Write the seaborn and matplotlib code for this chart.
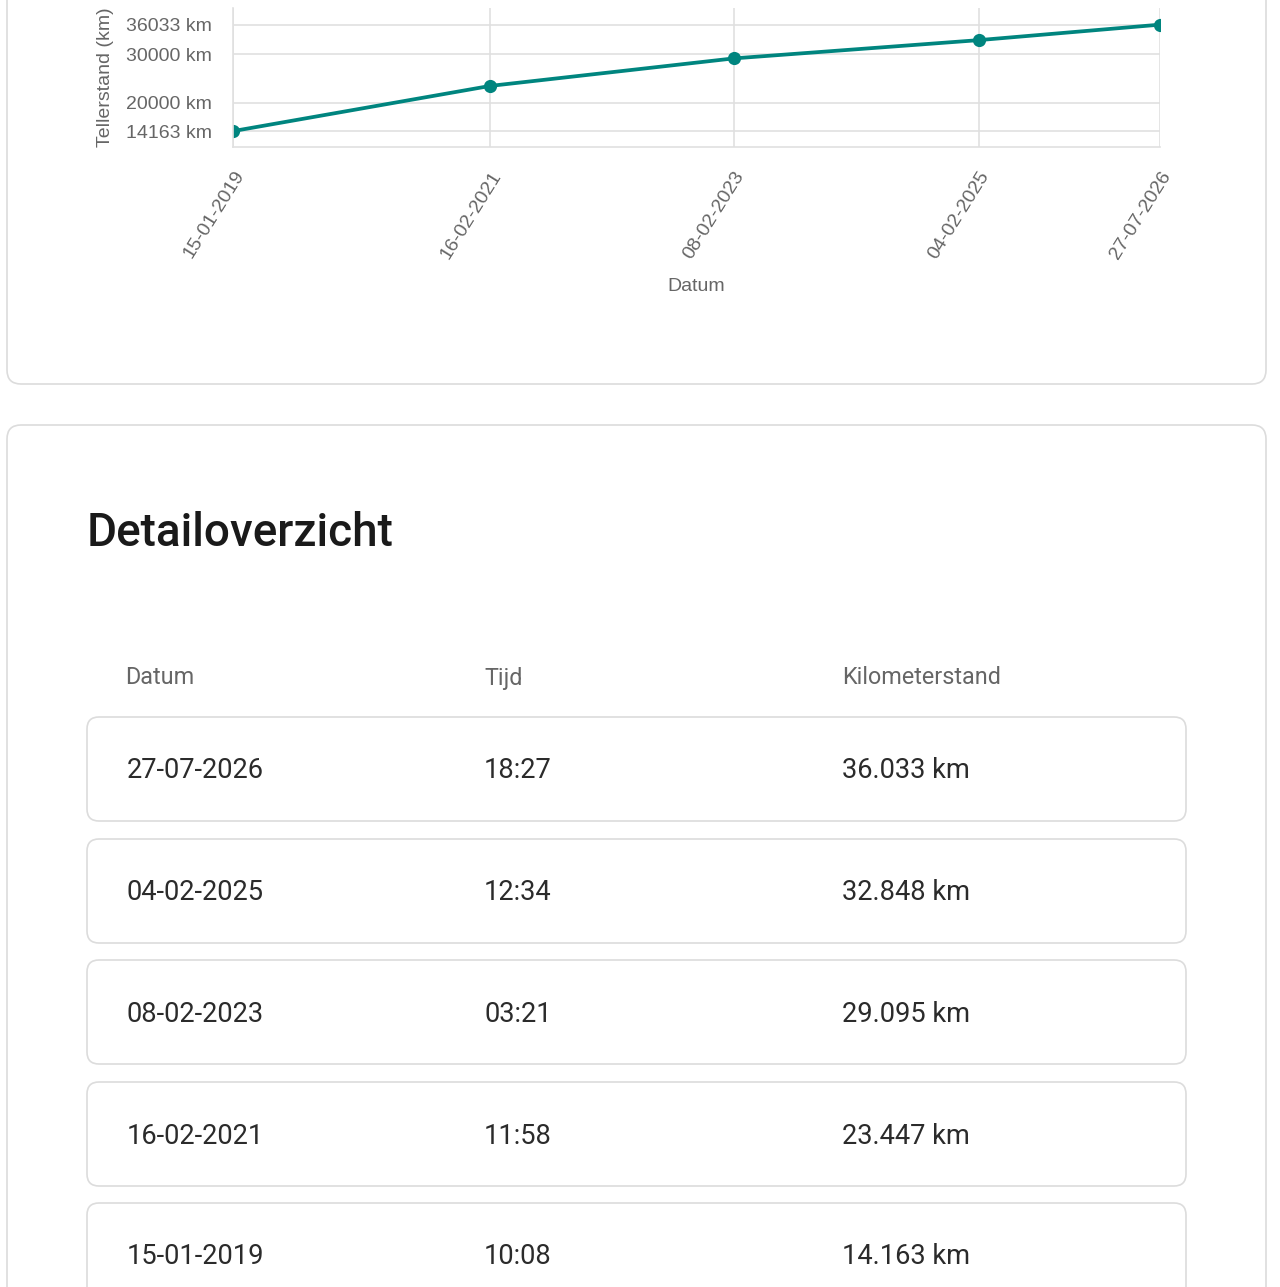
import pandas as pd
import numpy as np
import matplotlib.pyplot as plt
import seaborn as sns
from matplotlib.patches import FancyBboxPatch

# --------------------------------------------------------------
# Data
# --------------------------------------------------------------
dates = ["15-01-2019", "16-02-2021", "08-02-2023", "04-02-2025", "27-07-2026"]
times = ["10:08", "11:58", "03:21", "12:34", "18:27"]
km = [14163, 23447, 29095, 32848, 36033]
y_ticks = [14163, 20000, 30000, 36033]
headers = ["Datum", "Tijd", "Kilometerstand"]

df = pd.DataFrame({"Datum": pd.to_datetime(dates, format="%d-%m-%Y"), "km": km})

W, H = 1280, 1287
teal = "#00857f"
grid = "#e0e0e0"
label_grey = "#666666"

sns.set_style("white")
plt.rcParams["font.family"] = ["Liberation Sans", "DejaVu Sans"]

fig = plt.figure(figsize=(W / 100, H / 100), dpi=100)
fig.patch.set_facecolor("white")

# --------------------------------------------------------------
# Page background: cards and table rows (pixel coordinates)
# --------------------------------------------------------------
bg = fig.add_axes([0, 0, 1, 1], zorder=0)
bg.set_xlim(0, W)
bg.set_ylim(H, 0)
bg.axis("off")

card_style = dict(boxstyle="round,pad=0,rounding_size=14", facecolor="white",
                  edgecolor="#dcdcdc", linewidth=1.2)
bg.add_patch(FancyBboxPatch((7, -40), 1259, 424, **card_style))
bg.add_patch(FancyBboxPatch((7, 425), 1259, 900, **card_style))

bg.text(87, 533, "Detailoverzicht", fontsize=33, fontweight="medium",
        family="Roboto", color="#1a1a1a", va="center", ha="left")

col_x = [125, 484, 842]
for cx, h in zip(col_x, headers):
    bg.text(cx, 678, h, fontsize=16.8, family="Roboto", color=label_grey,
            va="center", ha="left")

row_tops = [717, 839, 960, 1082, 1203]
for top, d, t, k in zip(row_tops, dates[::-1], times[::-1], km[::-1]):
    bg.add_patch(FancyBboxPatch((87, top), 1099, 104,
                                boxstyle="round,pad=0,rounding_size=12",
                                facecolor="white", edgecolor="#dcdcdc", linewidth=1.2))
    yc = top + 54
    km_txt = f"{k:,} km".replace(",", ".")
    for cx, txt in zip([127, 484, 842], [d, t, km_txt]):
        bg.text(cx, yc, txt, fontsize=19.6, family="Roboto", color="#2b2b2b",
                va="center", ha="left")

# --------------------------------------------------------------
# Line chart
# --------------------------------------------------------------
left, right, top_px, bottom_px = 233, 1160, 8, 147
ax = fig.add_axes([left / W, 1 - bottom_px / H, (right - left) / W, (bottom_px - top_px) / H],
                  zorder=1)
ax.set_facecolor("none")

sns.lineplot(data=df, x="Datum", y="km", ax=ax, color=teal, linewidth=2.7,
             marker="o", markersize=9.5, markeredgewidth=0, clip_on=True)

ax.set_xlim(df["Datum"].min(), df["Datum"].max())
ax.set_ylim(10900, 39450)
ax.set_xticks(df["Datum"])
ax.set_xticklabels(dates, rotation=58, ha="right", va="top", rotation_mode="anchor",
                   fontsize=14, color=label_grey)
ax.set_yticks(y_ticks)
ax.set_yticklabels([f"{v} km" for v in y_ticks], fontsize=14, color=label_grey)

ax.grid(True, color=grid, linewidth=1.2)
ax.tick_params(axis="both", length=10, width=1.2, color=grid, pad=5)
for side in ["top", "right"]:
    ax.spines[side].set_visible(False)
for side in ["left", "bottom"]:
    ax.spines[side].set_color(grid)
    ax.spines[side].set_linewidth(1.2)

ax.set_xlabel("Datum", fontsize=14, color=label_grey, labelpad=12)
ax.set_ylabel("Tellerstand (km)", fontsize=14, color=label_grey, labelpad=9)

fig.savefig("out.png", dpi=100, facecolor="white")
